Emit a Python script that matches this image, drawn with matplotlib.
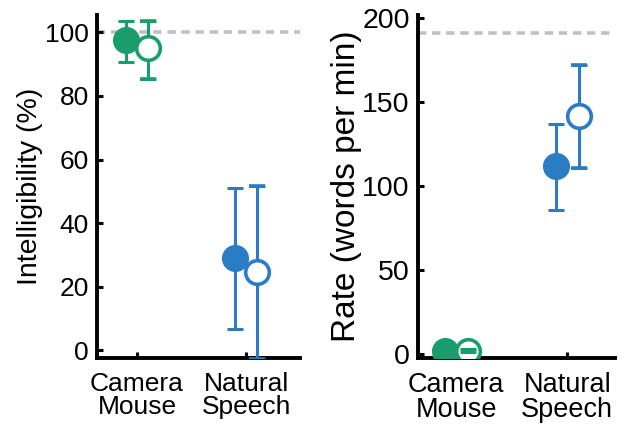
import matplotlib
matplotlib.use("Agg")
import matplotlib.pyplot as plt

plt.rcParams['font.family'] = ['Liberation Sans', 'DejaVu Sans']

categories = ["Camera\nMouse", "Natural\nSpeech"]
cat_colors = ["#199d6d", "#2a7cc4"]

# Intelligibility (%)
intel_filled = [97.5, 29.0]
intel_filled_lo = [90.7, 6.6]
intel_filled_hi = [103.5, 51.0]
intel_open = [95.0, 24.5]
intel_open_lo = [85.4, -2.8]
intel_open_hi = [103.5, 51.7]
intel_ref = 100

# Rate (words per min)
rate_filled = [2.0, 112.0]
rate_filled_lo = [2.0, 86.0]
rate_filled_hi = [2.0, 137.0]
rate_open = [2.0, 142.0]
rate_open_lo = [1.2, 111.0]
rate_open_hi = [2.8, 172.0]
rate_ref = 191

fig = plt.figure(figsize=(6.26, 4.24), dpi=100)
ax1 = fig.add_axes([97/626, 1-358/424, (300-97)/626, (358-15)/424])
ax2 = fig.add_axes([418/626, 1-358/424, (615-418)/626, (358-15)/424])

LW = 2.2
CAP = 5.5

def draw(ax, fm, flo, fhi, om, olo, ohi, ref, off, tick_fs, cat_fs):
    ax.axhline(ref, color="#c0c0c0", lw=2.6, ls=(0, (2.3, 1.6)), zorder=1)
    for i in range(len(categories)):
        c = cat_colors[i]
        x = i + 1
        ax.errorbar(x - off, fm[i], yerr=[[fm[i]-flo[i]], [fhi[i]-fm[i]]],
                    fmt='o', color=c, ms=18.5, mfc=c, mec=c,
                    elinewidth=LW, capsize=CAP, capthick=LW, zorder=3)
        oyerr = [[om[i]-olo[i]], [ohi[i]-om[i]]]
        ax.errorbar(x + off, om[i], yerr=oyerr,
                    fmt='o', color=c, ms=17, mfc='white', mec=c, mew=2.6,
                    elinewidth=LW, capsize=CAP, capthick=LW, zorder=4)
        # caps drawn again on top of the open marker
        ax.errorbar(x + off, om[i], yerr=oyerr, fmt='none', ecolor=c,
                    elinewidth=0, capsize=CAP, capthick=LW, zorder=5)
    for s in ['top', 'right']:
        ax.spines[s].set_visible(False)
    for s in ['left', 'bottom']:
        ax.spines[s].set_linewidth(2.8)
    ax.tick_params(direction='in', length=4, width=2.2, labelsize=tick_fs)
    ax.tick_params(axis='y', pad=6)
    ax.tick_params(axis='x', pad=10)
    ax.set_xticks([1, 2])
    ax.set_xticklabels(categories, fontsize=cat_fs, linespacing=0.96)

draw(ax1, intel_filled, intel_filled_lo, intel_filled_hi,
     intel_open, intel_open_lo, intel_open_hi, intel_ref, 0.105, 19, 19)
ax1.set_xlim(0.633, 2.495)
ax1.set_ylim(-2.5, 105.5)
ax1.set_yticks([0, 20, 40, 60, 80, 100])
ax1.set_ylabel("Intelligibility (%)", fontsize=20.5, labelpad=1)

draw(ax2, rate_filled, rate_filled_lo, rate_filled_hi,
     rate_open, rate_open_lo, rate_open_hi, rate_ref, 0.103, 20.5, 19.5)
ax2.set_xlim(0.657, 2.43)
ax2.set_ylim(-2.4, 202)
ax2.set_yticks([0, 50, 100, 150, 200])
ax2.set_ylabel("Rate (words per min)", fontsize=24, labelpad=0)

fig.savefig("out.png", dpi=100)
